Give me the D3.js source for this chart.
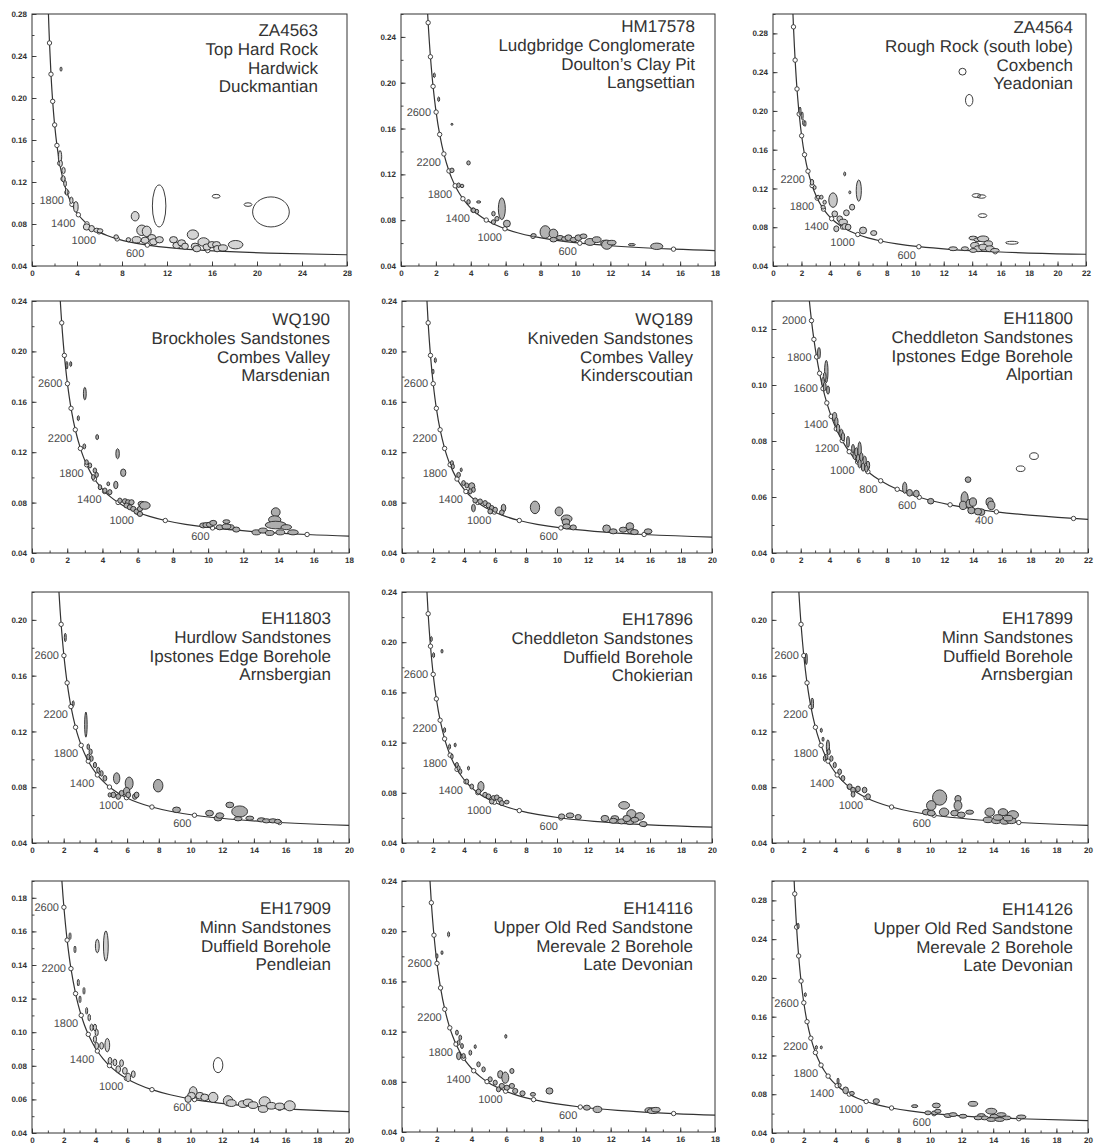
<!DOCTYPE html>
<html><head><meta charset="utf-8">
<script src="https://cdn.jsdelivr.net/npm/d3@7"></script>
<style>body{margin:0;background:#fff}svg{display:block}text{text-rendering:geometricPrecision}</style>
</head><body>
<svg id="c" width="1097" height="1146"></svg>
<script>
// ---- Concordia (Tera-Wasserburg) reference points: age (Ma), 238U/206Pb, 207Pb/206Pb
const concordiaAge = [100,150,200,300,400,500,600,700,800,900,1000,1100,1200,1300,1400,1500,1600,1700,1800,1900,2000,2200,2400,2600,2800,3000,3200,3400,3500,3600];
const concordiaX = [63.97,42.478,31.735,20.992,15.621,12.399,10.252,8.718,7.5684,6.6743,5.9594,5.3746,4.8875,4.4756,4.1227,3.8170,3.5497,3.3139,3.1046,2.9174,2.7490,2.4586,2.2170,2.0129,1.8384,1.6874,1.5557,1.4398,1.3869,1.3370];
const concordiaY = [0.048015,0.049045,0.050108,0.052333,0.054700,0.057219,0.059901,0.062757,0.065800,0.069042,0.072499,0.076187,0.080123,0.084323,0.088807,0.093598,0.098716,0.104183,0.110036,0.116293,0.122987,0.137821,0.154833,0.174367,0.196819,0.222657,0.252418,0.286737,0.305829,0.326345];

// ---- Panel texts
const sampleIds = ['ZA4563','HM17578','ZA4564','WQ190','WQ189','EH11800','EH11803','EH17896','EH17899','EH17909','EH14116','EH14126'];
const units = ['Top Hard Rock','Ludgbridge Conglomerate','Rough Rock (south lobe)','Brockholes Sandstones','Kniveden Sandstones','Cheddleton Sandstones','Hurdlow Sandstones','Cheddleton Sandstones','Minn Sandstones','Minn Sandstones','Upper Old Red Sandstone','Upper Old Red Sandstone'];
const localities = ['Hardwick','Doulton\u2019s Clay Pit','Coxbench','Combes Valley','Combes Valley','Ipstones Edge Borehole','Ipstones Edge Borehole','Duffield Borehole','Duffield Borehole','Duffield Borehole','Merevale 2 Borehole','Merevale 2 Borehole'];
const stages = ['Duckmantian','Langsettian','Yeadonian','Marsdenian','Kinderscoutian','Alportian','Arnsbergian','Chokierian','Arnsbergian','Pendleian','Late Devonian','Late Devonian'];

// ---- Axis extents / ticks
const xMaxes = [28,18,22,18,20,22,20,20,20,20,18,20];
const yMins = [0.04,0.04,0.04,0.04,0.04,0.04,0.04,0.04,0.04,0.04,0.04,0.04];
const yMaxes = [0.28,0.26,0.30,0.24,0.24,0.13,0.22,0.24,0.22,0.19,0.24,0.30];
const xTickSteps = [4,2,2,2,2,2,2,2,2,2,2,2];
const yTickSteps = [0.04,0.04,0.04,0.04,0.04,0.02,0.04,0.04,0.04,0.02,0.04,0.04];
const markerSteps = [200,200,200,200,200,100,200,200,200,200,200,200];
const std6 = [600,1000,1400,1800,2200,2600];
const labelAges = [[600,1000,1400,1800],std6,[600,1000,1400,1800,2200],std6,std6,
  [400,600,800,1000,1200,1400,1600,1800,2000],std6,std6,std6,std6,std6,std6];
const labelLevelAge = [2600,2600,2600,2600,2600,1600,2600,2600,2600,2200,2600,2600];

// ---- Analyses: [238U/206Pb, 207Pb/206Pb, half-width x, half-height y, 'f' filled | 'o' open]
const ellZA4563 = [[2.58,0.2275,0.05,0.002,'f'],[2.49,0.144,0.15,0.006,'f'],[2.55,0.1376,0.15,0.003,'f'],[2.8,0.131,0.15,0.003,'f'],[2.79,0.123,0.15,0.003,'f'],[2.94,0.1185,0.12,0.003,'f'],[3.08,0.1106,0.12,0.003,'f'],[3.5,0.1026,0.15,0.003,'f'],[3.9,0.0963,0.2,0.005,'f'],[4.86,0.0772,0.3,0.003,'f'],[5.3,0.0756,0.25,0.003,'f'],[5.75,0.074,0.25,0.002,'f'],[6.05,0.0735,0.25,0.002,'f'],[7.48,0.0677,0.2,0.002,'f'],[8.57,0.065,0.2,0.002,'f'],[9.17,0.0874,0.35,0.0045,'f'],[9.76,0.074,0.45,0.005,'f'],[10.2,0.073,0.4,0.005,'f'],[9.3,0.065,0.4,0.003,'f'],[10.05,0.0645,0.35,0.003,'f'],[10.65,0.067,0.35,0.003,'f'],[10.8,0.063,0.35,0.003,'f'],[11.33,0.065,0.35,0.003,'f'],[11.3,0.0972,0.6,0.02,'o'],[12.58,0.065,0.35,0.003,'f'],[12.87,0.0597,0.35,0.003,'f'],[13.3,0.062,0.35,0.003,'f'],[13.6,0.0588,0.3,0.003,'f'],[14.3,0.0699,0.5,0.0045,'f'],[14.5,0.0588,0.35,0.003,'f'],[14.65,0.0565,0.35,0.003,'f'],[15.25,0.0629,0.5,0.004,'f'],[15.55,0.0581,0.35,0.003,'f'],[15.99,0.0603,0.35,0.003,'f'],[16.4,0.0603,0.35,0.003,'f'],[16.45,0.0565,0.3,0.003,'f'],[16.97,0.0572,0.4,0.003,'f'],[18.1,0.0603,0.65,0.004,'f'],[16.37,0.1064,0.35,0.0018,'o'],[19.2,0.0985,0.35,0.0017,'o'],[21.24,0.0915,1.63,0.0143,'o']];
const ellHM17578 = [[1.91,0.2065,0.04,0.002,'f'],[2.16,0.1856,0.04,0.002,'f'],[2.92,0.1637,0.04,0.0008,'f'],[3.87,0.13,0.1,0.0018,'f'],[2.92,0.1235,0.12,0.002,'f'],[3.3,0.1105,0.1,0.002,'f'],[3.5,0.1099,0.1,0.0015,'f'],[3.87,0.096,0.1,0.002,'f'],[4.45,0.0959,0.12,0.001,'f'],[4.16,0.0886,0.12,0.002,'f'],[4.35,0.0875,0.1,0.002,'f'],[5.3,0.0857,0.1,0.002,'f'],[5.3,0.0784,0.12,0.002,'f'],[5.5,0.0813,0.12,0.002,'f'],[5.78,0.090,0.2,0.0095,'f'],[6.07,0.077,0.2,0.003,'f'],[7.6,0.0668,0.15,0.0015,'f'],[8.27,0.0697,0.3,0.0055,'f'],[8.74,0.0682,0.25,0.004,'f'],[8.74,0.063,0.2,0.002,'f'],[9.12,0.0647,0.2,0.002,'f'],[9.4,0.0636,0.2,0.002,'f'],[9.6,0.0647,0.2,0.0025,'f'],[9.9,0.063,0.2,0.002,'f'],[10.17,0.0647,0.2,0.0025,'f'],[10.46,0.066,0.2,0.002,'f'],[10.84,0.061,0.3,0.003,'f'],[11.22,0.063,0.25,0.0025,'f'],[11.7,0.060,0.25,0.0025,'f'],[11.8,0.0586,0.3,0.004,'f'],[12.08,0.0604,0.25,0.002,'f'],[13.23,0.0586,0.2,0.001,'f'],[14.66,0.0572,0.35,0.0028,'f']];
const ellZA4564 = [[1.9,0.2,0.04,0.004,'f'],[2.05,0.195,0.05,0.004,'f'],[2.15,0.188,0.05,0.003,'f'],[2.25,0.187,0.05,0.003,'f'],[2.74,0.1264,0.12,0.003,'f'],[2.93,0.121,0.1,0.002,'f'],[3.17,0.111,0.12,0.002,'f'],[3.4,0.111,0.12,0.002,'f'],[3.63,0.1058,0.12,0.002,'f'],[3.52,0.1007,0.15,0.002,'f'],[13.32,0.2405,0.25,0.0035,'o'],[13.79,0.211,0.26,0.006,'o'],[4.22,0.108,0.3,0.0075,'f'],[5.04,0.135,0.05,0.002,'f'],[5.4,0.116,0.06,0.0015,'f'],[6.03,0.1178,0.18,0.011,'f'],[5.56,0.1007,0.18,0.003,'f'],[5.16,0.0949,0.2,0.003,'f'],[4.34,0.0938,0.2,0.003,'f'],[4.69,0.0887,0.2,0.003,'f'],[4.93,0.0853,0.3,0.003,'f'],[4.45,0.0784,0.18,0.003,'f'],[5.04,0.0808,0.2,0.003,'f'],[5.28,0.0801,0.2,0.003,'f'],[6.33,0.0767,0.25,0.0035,'f'],[7.08,0.074,0.22,0.0025,'f'],[12.66,0.0578,0.3,0.002,'f'],[13.49,0.0578,0.25,0.002,'f'],[14.07,0.0688,0.3,0.002,'f'],[14.42,0.0671,0.3,0.002,'f'],[14.77,0.068,0.4,0.003,'f'],[15.13,0.063,0.3,0.003,'f'],[14.19,0.0613,0.3,0.003,'f'],[14.42,0.0578,0.3,0.003,'f'],[14.77,0.0595,0.3,0.003,'f'],[15.24,0.0578,0.3,0.003,'f'],[15.6,0.0561,0.3,0.002,'f'],[14.07,0.056,0.25,0.002,'f'],[14.3,0.1127,0.3,0.002,'o'],[14.66,0.1117,0.3,0.0018,'o'],[14.73,0.092,0.3,0.002,'o'],[16.8,0.064,0.45,0.0015,'o']];
const ellWQ190 = [[1.98,0.189,0.04,0.003,'f'],[2.2,0.19,0.03,0.002,'f'],[3.0,0.1665,0.08,0.005,'f'],[2.63,0.147,0.06,0.002,'f'],[3.7,0.132,0.08,0.002,'f'],[2.97,0.1246,0.08,0.002,'f'],[4.86,0.1188,0.1,0.004,'f'],[5.18,0.1037,0.15,0.003,'f'],[4.76,0.094,0.12,0.003,'f'],[3.1,0.112,0.1,0.002,'f'],[3.29,0.1095,0.1,0.002,'f'],[3.57,0.1055,0.1,0.002,'f'],[3.67,0.102,0.1,0.002,'f'],[3.48,0.1002,0.1,0.002,'f'],[3.86,0.0922,0.1,0.002,'f'],[4.14,0.0896,0.12,0.002,'f'],[4.33,0.0949,0.08,0.0015,'f'],[4.42,0.0883,0.12,0.002,'f'],[4.99,0.0816,0.12,0.002,'f'],[5.28,0.0811,0.15,0.002,'f'],[5.46,0.0803,0.15,0.002,'f'],[5.65,0.0803,0.15,0.002,'f'],[5.37,0.0777,0.15,0.002,'f'],[5.56,0.0763,0.15,0.002,'f'],[5.75,0.075,0.15,0.002,'f'],[5.94,0.0729,0.15,0.002,'f'],[6.13,0.075,0.15,0.002,'f'],[6.22,0.079,0.2,0.002,'f'],[6.41,0.0777,0.3,0.003,'f'],[6.13,0.071,0.15,0.002,'f'],[9.72,0.0619,0.2,0.002,'f'],[9.9,0.0622,0.2,0.002,'f'],[10.1,0.0625,0.2,0.002,'f'],[10.29,0.0639,0.2,0.002,'f'],[10.66,0.0604,0.2,0.002,'f'],[11.04,0.0649,0.2,0.0015,'f'],[11.23,0.0605,0.25,0.002,'f'],[11.6,0.0586,0.2,0.002,'f'],[13.84,0.0724,0.25,0.0035,'f'],[13.78,0.0665,0.35,0.003,'f'],[13.84,0.0622,0.6,0.003,'f'],[14.44,0.0605,0.3,0.002,'f'],[14.1,0.0564,0.25,0.002,'f'],[14.82,0.0564,0.3,0.002,'f'],[12.74,0.0564,0.25,0.002,'f'],[13.12,0.0578,0.25,0.002,'f'],[13.5,0.0559,0.25,0.002,'f'],[11.04,0.061,0.25,0.002,'f']];
const ellWQ189 = [[2.15,0.193,0.03,0.002,'f'],[2.0,0.184,0.04,0.002,'f'],[3.22,0.1113,0.1,0.002,'f'],[3.28,0.1087,0.1,0.002,'f'],[3.82,0.106,0.04,0.0015,'f'],[3.65,0.102,0.12,0.002,'f'],[3.97,0.0955,0.12,0.002,'f'],[4.18,0.0936,0.12,0.002,'f'],[4.5,0.0928,0.2,0.003,'f'],[4.61,0.0902,0.12,0.002,'f'],[4.4,0.0889,0.12,0.002,'f'],[4.72,0.0817,0.15,0.002,'f'],[4.61,0.0757,0.12,0.003,'f'],[5.04,0.0809,0.15,0.002,'f'],[5.36,0.0796,0.15,0.002,'f'],[5.58,0.0778,0.15,0.002,'f'],[5.79,0.0757,0.15,0.002,'f'],[6.01,0.0743,0.15,0.002,'f'],[5.69,0.073,0.15,0.002,'f'],[6.55,0.0757,0.15,0.003,'f'],[6.44,0.0722,0.15,0.002,'f'],[8.58,0.0762,0.3,0.005,'f'],[10.13,0.073,0.25,0.0035,'f'],[10.62,0.0672,0.35,0.003,'f'],[10.58,0.0646,0.25,0.0025,'f'],[10.62,0.0611,0.25,0.002,'f'],[11.05,0.0603,0.2,0.002,'f'],[13.2,0.0593,0.25,0.003,'f'],[13.63,0.0572,0.25,0.002,'f'],[14.27,0.0585,0.25,0.002,'f'],[14.7,0.0611,0.25,0.003,'f'],[14.8,0.0572,0.25,0.002,'f'],[15.0,0.0566,0.25,0.002,'f'],[15.88,0.0572,0.25,0.002,'f']];
const ellEH11800 = [[3.27,0.1114,0.1,0.002,'f'],[3.78,0.1048,0.12,0.004,'f'],[3.67,0.103,0.1,0.0015,'f'],[3.55,0.1012,0.1,0.0015,'f'],[3.9,0.0982,0.1,0.0015,'f'],[3.67,0.0994,0.1,0.0015,'f'],[4.36,0.0887,0.15,0.0015,'f'],[4.48,0.0869,0.12,0.0015,'f'],[4.6,0.0845,0.12,0.0015,'f'],[4.83,0.0827,0.12,0.0015,'f'],[4.94,0.0815,0.12,0.0015,'f'],[5.29,0.0797,0.1,0.002,'f'],[5.64,0.0773,0.1,0.0015,'f'],[5.75,0.0749,0.12,0.0015,'f'],[5.87,0.0761,0.12,0.0015,'f'],[6.1,0.0767,0.12,0.003,'f'],[5.99,0.0737,0.12,0.0015,'f'],[6.1,0.0719,0.12,0.0015,'f'],[6.22,0.0743,0.12,0.0015,'f'],[6.45,0.0731,0.12,0.0015,'f'],[6.34,0.0707,0.12,0.0015,'f'],[6.68,0.0713,0.12,0.0015,'f'],[6.57,0.0701,0.12,0.0012,'f'],[9.24,0.0633,0.15,0.002,'f'],[9.58,0.0615,0.2,0.0012,'f'],[10.05,0.0612,0.2,0.0012,'f'],[11.05,0.0585,0.22,0.001,'f'],[13.65,0.0662,0.2,0.001,'f'],[13.41,0.0594,0.25,0.0025,'f'],[13.3,0.057,0.25,0.0015,'f'],[13.76,0.0576,0.25,0.0015,'f'],[13.99,0.0582,0.25,0.0015,'f'],[13.88,0.0552,0.25,0.0012,'f'],[14.57,0.0546,0.25,0.0012,'f'],[14.34,0.0548,0.25,0.0012,'f'],[15.15,0.0582,0.25,0.0015,'f'],[15.27,0.057,0.25,0.0015,'f'],[17.31,0.0701,0.3,0.001,'o'],[18.24,0.0746,0.3,0.0012,'o']];
const ellEH11803 = [[2.1,0.1874,0.04,0.003,'f'],[2.6,0.14,0.06,0.002,'f'],[3.4,0.1249,0.08,0.009,'f'],[3.55,0.109,0.08,0.002,'f'],[3.7,0.1054,0.1,0.002,'f'],[3.55,0.1018,0.1,0.002,'f'],[3.76,0.1006,0.1,0.002,'f'],[3.97,0.0959,0.1,0.002,'f'],[4.18,0.0923,0.1,0.002,'f'],[4.39,0.0899,0.1,0.002,'f'],[4.6,0.0864,0.12,0.002,'f'],[5.34,0.0864,0.2,0.004,'f'],[6.13,0.0828,0.25,0.0045,'f'],[5.97,0.0768,0.2,0.003,'f'],[6.07,0.0745,0.15,0.002,'f'],[5.65,0.0757,0.15,0.002,'f'],[5.44,0.0733,0.15,0.002,'f'],[6.49,0.0733,0.15,0.002,'f'],[6.6,0.0745,0.15,0.002,'f'],[5.13,0.0745,0.15,0.002,'f'],[7.96,0.0811,0.3,0.0045,'f'],[4.9,0.0745,0.1,0.0015,'f'],[9.12,0.0638,0.25,0.002,'f'],[11.2,0.0614,0.25,0.002,'f'],[11.74,0.0578,0.25,0.002,'f'],[11.85,0.0597,0.25,0.002,'f'],[12.48,0.0673,0.25,0.002,'f'],[13.1,0.0626,0.5,0.004,'f'],[13.0,0.0574,0.25,0.0015,'f'],[13.74,0.0578,0.25,0.0015,'f'],[14.47,0.0566,0.25,0.0015,'f'],[14.79,0.0559,0.25,0.0015,'f'],[15.2,0.0559,0.25,0.0015,'f'],[15.5,0.0555,0.2,0.0015,'f']];
const ellEH17896 = [[1.89,0.2025,0.03,0.002,'f'],[2.04,0.1897,0.03,0.002,'f'],[2.58,0.1928,0.04,0.0015,'f'],[2.75,0.130,0.05,0.002,'f'],[3.07,0.1168,0.06,0.002,'f'],[3.43,0.1181,0.05,0.0015,'f'],[3.22,0.1089,0.08,0.002,'f'],[3.54,0.1022,0.1,0.002,'f'],[3.65,0.0996,0.1,0.002,'f'],[3.76,0.097,0.1,0.002,'f'],[4.29,0.0996,0.05,0.0015,'f'],[4.18,0.089,0.12,0.002,'f'],[4.5,0.085,0.12,0.002,'f'],[5.09,0.085,0.2,0.004,'f'],[4.94,0.081,0.15,0.002,'f'],[5.36,0.0784,0.15,0.002,'f'],[5.58,0.0771,0.15,0.002,'f'],[5.9,0.0758,0.15,0.002,'f'],[6.12,0.0763,0.15,0.002,'f'],[6.33,0.0744,0.15,0.002,'f'],[6.44,0.0718,0.15,0.002,'f'],[6.76,0.0726,0.15,0.0015,'f'],[5.79,0.0731,0.15,0.002,'f'],[10.3,0.0612,0.2,0.002,'f'],[10.84,0.062,0.25,0.002,'f'],[11.37,0.0607,0.2,0.002,'f'],[13.09,0.0595,0.25,0.0025,'f'],[13.73,0.0598,0.25,0.002,'f'],[14.33,0.07,0.35,0.003,'f'],[14.8,0.0631,0.3,0.0035,'f'],[15.34,0.0612,0.3,0.003,'f'],[14.16,0.0572,0.25,0.002,'f'],[13.63,0.0577,0.25,0.002,'f'],[14.7,0.0567,0.25,0.002,'f'],[15.56,0.0551,0.25,0.002,'f'],[15.02,0.0585,0.25,0.002,'f'],[14.5,0.0595,0.25,0.0025,'f']];
const ellEH17899 = [[2.17,0.172,0.04,0.004,'f'],[2.55,0.14,0.08,0.004,'f'],[3.12,0.1208,0.04,0.0015,'f'],[3.23,0.1144,0.04,0.0015,'f'],[3.54,0.109,0.1,0.005,'f'],[3.59,0.1054,0.1,0.002,'f'],[3.44,0.1018,0.1,0.002,'f'],[3.33,0.1006,0.08,0.002,'f'],[3.76,0.1006,0.1,0.002,'f'],[3.97,0.0959,0.1,0.002,'f'],[4.28,0.0911,0.12,0.002,'f'],[4.49,0.0864,0.12,0.002,'f'],[4.92,0.0804,0.15,0.002,'f'],[5.13,0.078,0.15,0.002,'f'],[5.44,0.0788,0.15,0.002,'f'],[5.13,0.0749,0.12,0.002,'f'],[5.86,0.078,0.15,0.002,'f'],[6.08,0.0733,0.15,0.002,'f'],[10.61,0.0726,0.45,0.0055,'f'],[10.08,0.0669,0.3,0.0035,'f'],[9.77,0.0621,0.25,0.002,'f'],[10.08,0.0614,0.25,0.002,'f'],[10.89,0.0621,0.3,0.003,'f'],[11.77,0.0716,0.2,0.0025,'f'],[11.77,0.0669,0.25,0.0035,'f'],[11.56,0.0614,0.25,0.002,'f'],[11.98,0.0602,0.25,0.002,'f'],[12.51,0.0621,0.25,0.0015,'f'],[13.78,0.0621,0.3,0.003,'f'],[14.62,0.0621,0.3,0.0025,'f'],[15.25,0.0602,0.35,0.003,'f'],[13.67,0.0566,0.3,0.002,'f'],[14.2,0.0559,0.3,0.002,'f'],[14.73,0.0555,0.3,0.002,'f'],[15.15,0.0559,0.3,0.002,'f'],[14.94,0.0578,0.3,0.002,'f'],[14.3,0.0583,0.3,0.002,'f']];
const ellEH17909 = [[2.4,0.1572,0.05,0.002,'f'],[2.71,0.1493,0.05,0.002,'f'],[4.12,0.1513,0.12,0.004,'f'],[4.66,0.1513,0.15,0.009,'f'],[2.92,0.1295,0.06,0.002,'f'],[3.28,0.1246,0.06,0.002,'f'],[3.03,0.1196,0.06,0.002,'f'],[3.45,0.1127,0.06,0.002,'f'],[3.61,0.1087,0.08,0.002,'f'],[3.76,0.1028,0.1,0.002,'f'],[3.97,0.1028,0.1,0.002,'f'],[4.08,0.0998,0.1,0.002,'f'],[3.97,0.0958,0.1,0.002,'f'],[4.08,0.0919,0.12,0.002,'f'],[4.39,0.0919,0.12,0.002,'f'],[4.75,0.0923,0.15,0.004,'f'],[4.92,0.083,0.12,0.002,'f'],[5.23,0.082,0.12,0.002,'f'],[5.65,0.0816,0.12,0.002,'f'],[5.44,0.078,0.15,0.002,'f'],[5.86,0.077,0.15,0.002,'f'],[6.07,0.0731,0.15,0.0025,'f'],[6.39,0.075,0.12,0.002,'f'],[10.17,0.0641,0.25,0.0035,'f'],[10.06,0.0622,0.25,0.002,'f'],[9.85,0.0602,0.2,0.002,'f'],[10.59,0.0622,0.25,0.002,'f'],[10.9,0.0612,0.25,0.002,'f'],[11.43,0.0612,0.3,0.003,'f'],[11.74,0.0804,0.3,0.0045,'o'],[12.37,0.0592,0.3,0.003,'f'],[12.58,0.0578,0.3,0.002,'f'],[13.32,0.0572,0.3,0.002,'f'],[13.63,0.0582,0.3,0.002,'f'],[13.95,0.0566,0.3,0.002,'f'],[14.68,0.0586,0.35,0.003,'f'],[14.58,0.0543,0.3,0.002,'f'],[15.1,0.0562,0.3,0.002,'f'],[15.63,0.0558,0.3,0.002,'f'],[16.26,0.0562,0.35,0.003,'f']];
const ellEH14116 = [[2.68,0.1975,0.05,0.002,'f'],[2.01,0.1802,0.04,0.002,'f'],[2.3,0.1829,0.04,0.0015,'f'],[3.16,0.1192,0.08,0.002,'f'],[3.35,0.1152,0.08,0.002,'f'],[3.26,0.1112,0.08,0.002,'f'],[3.45,0.1085,0.08,0.002,'f'],[3.26,0.1006,0.12,0.003,'f'],[3.54,0.1006,0.1,0.002,'f'],[3.93,0.1032,0.08,0.002,'f'],[4.21,0.108,0.06,0.0015,'f'],[5.97,0.1162,0.06,0.0015,'f'],[4.4,0.0939,0.1,0.002,'f'],[4.69,0.0899,0.1,0.002,'f'],[5.65,0.0859,0.15,0.003,'f'],[5.94,0.0833,0.2,0.0045,'f'],[6.32,0.0886,0.12,0.002,'f'],[5.07,0.082,0.12,0.002,'f'],[5.36,0.0793,0.12,0.002,'f'],[5.55,0.074,0.12,0.002,'f'],[5.74,0.0767,0.15,0.002,'f'],[6.03,0.0753,0.15,0.002,'f'],[6.32,0.0767,0.15,0.002,'f'],[6.51,0.0727,0.15,0.002,'f'],[6.93,0.0708,0.15,0.002,'f'],[7.53,0.07,0.15,0.0015,'f'],[8.48,0.0727,0.2,0.0025,'f'],[10.63,0.0594,0.2,0.002,'f'],[11.24,0.058,0.25,0.0025,'f'],[14.27,0.0574,0.3,0.002,'f'],[14.42,0.0567,0.3,0.002,'f'],[14.6,0.0578,0.25,0.0018,'f']];
const ellEH14126 = [[1.65,0.2536,0.04,0.003,'f'],[2.11,0.1827,0.04,0.002,'f'],[2.81,0.1283,0.06,0.002,'f'],[3.12,0.1283,0.06,0.0015,'f'],[4.18,0.0937,0.06,0.003,'f'],[4.28,0.0892,0.1,0.002,'f'],[4.66,0.084,0.18,0.0035,'f'],[5.06,0.0809,0.15,0.002,'f'],[6.6,0.0729,0.2,0.0025,'f'],[9.03,0.0677,0.2,0.0015,'f'],[10.4,0.0684,0.25,0.0025,'f'],[12.72,0.0701,0.3,0.0025,'f'],[9.87,0.0608,0.2,0.002,'f'],[10.3,0.0608,0.2,0.002,'f'],[10.5,0.0625,0.2,0.002,'f'],[11.14,0.058,0.25,0.002,'f'],[11.46,0.059,0.25,0.002,'f'],[12.09,0.0573,0.25,0.002,'f'],[13.25,0.058,0.25,0.002,'f'],[13.46,0.0556,0.25,0.002,'f'],[13.88,0.0625,0.35,0.003,'f'],[14.09,0.0573,0.3,0.002,'f'],[14.51,0.059,0.3,0.002,'f'],[14.83,0.0556,0.3,0.002,'f'],[13.88,0.0539,0.3,0.002,'f'],[14.41,0.0539,0.3,0.002,'f'],[15.78,0.0566,0.3,0.002,'f'],[13.04,0.0556,0.25,0.002,'f']];

const ellipseSets = [ellZA4563,ellHM17578,ellZA4564,ellWQ190,ellWQ189,ellEH11800,ellEH11803,ellEH17896,ellEH17899,ellEH17909,ellEH14116,ellEH14126];

// ---- Layout & styles (pixels)
const frames = [[32,14,347,266],[401,14,715,266],[773,14,1086,266],
                [32,301,349,553],[402,301,712,553],[772,301,1088,553],
                [32,592,349,843],[402,592,712,843],[772,592,1088,843],
                [32,881,349,1133],[402,881,715,1132],[772,881,1088,1133]];
const titleRight = [29,20,13,19,19,15,18,19,15,18,22,15];
const titleTop = [22,18,19,24,24,23,32,33,32,33,33,34];
const fills = ['#d4d4d4','#b2b2b2','#c8c8c8','#adadad','#adadad','#aaaaaa','#aaaaaa','#b0b0b0','#aaaaaa','#cfcfcf','#b0b0b0','#b0b0b0'];
const FONT = '"Liberation Sans", Arial, Helvetica, sans-serif';

const svg = d3.select('#c');
svg.append('rect').attr('width',1097).attr('height',1146).attr('fill','#fff');
const defs = svg.append('defs');
const concordia = concordiaAge.map((a,i)=>({age:a,x:concordiaX[i],y:concordiaY[i]}));

frames.forEach((f,i)=>{
  const [x0,y0,x1,y1] = f;
  const x = d3.scaleLinear().domain([0,xMaxes[i]]).range([x0,x1]);
  const y = d3.scaleLinear().domain([yMins[i],yMaxes[i]]).range([y1,y0]);
  const g = svg.append('g');
  defs.append('clipPath').attr('id','clip'+i).append('rect')
    .attr('x',x0).attr('y',y0).attr('width',x1-x0).attr('height',y1-y0);

  // axes (ticks inward)
  const xt = d3.range(0, xMaxes[i]+1e-9, xTickSteps[i]);
  const xm = d3.range(0, xMaxes[i]+1e-9, xTickSteps[i]/2);
  const yt = d3.range(yMins[i], yMaxes[i]+1e-9, yTickSteps[i]).map(v=>+v.toFixed(3));
  const ym = d3.range(yMins[i], yMaxes[i]+1e-9, yTickSteps[i]/2).map(v=>+v.toFixed(3));
  const styleAxis = sel => {
    sel.select('.domain').remove();
    sel.selectAll('line').attr('stroke','#333').attr('stroke-width',0.9);
    sel.selectAll('text').attr('font-family',FONT).attr('font-size',8).attr('font-weight','bold').attr('fill','#333');
  };
  g.append('g').attr('transform',`translate(0,${y1})`)
    .call(d3.axisBottom(x).tickValues(xm).tickSize(-2.5).tickFormat('')).call(styleAxis);
  g.append('g').attr('transform',`translate(0,${y1})`)
    .call(d3.axisBottom(x).tickValues(xt).tickSize(-4.5).tickPadding(4).tickFormat(d3.format('d'))).call(styleAxis);
  g.append('g').attr('transform',`translate(${x0},0)`)
    .call(d3.axisLeft(y).tickValues(ym).tickSize(-2.5).tickFormat('')).call(styleAxis);
  g.append('g').attr('transform',`translate(${x0},0)`)
    .call(d3.axisLeft(y).tickValues(yt).tickSize(-4.5).tickPadding(5).tickFormat(d3.format('.2f'))).call(styleAxis);

  const plot = g.append('g').attr('clip-path',`url(#clip${i})`);
  // concordia curve
  const line = d3.line().x(d=>x(d.x)).y(d=>y(d.y)).curve(d3.curveCatmullRom);
  plot.append('path').datum(concordia).attr('d',line)
    .attr('fill','none').attr('stroke','#333').attr('stroke-width',1.2);
  // age markers
  const marks = concordia.filter(d=>d.age>=200 && d.age%markerSteps[i]===0 && d.x<=xMaxes[i] && d.y<=yMaxes[i]);
  plot.selectAll('circle.m').data(marks).enter().append('circle')
    .attr('cx',d=>x(d.x)).attr('cy',d=>y(d.y)).attr('r',2.2)
    .attr('fill','#fff').attr('stroke','#333').attr('stroke-width',0.9);
  // analyses ellipses
  plot.selectAll('ellipse').data(ellipseSets[i]).enter().append('ellipse')
    .attr('cx',d=>x(d[0])).attr('cy',d=>y(d[1]))
    .attr('rx',d=>Math.max(1, x(d[0]+d[2])-x(d[0])))
    .attr('ry',d=>Math.max(1, y(d[1])-y(d[1]+d[3])))
    .attr('fill',d=>d[4]==='o'?'none':fills[i])
    .attr('stroke','#262626').attr('stroke-width',0.9);
  // age labels
  const lab = concordia.filter(d=>labelAges[i].includes(d.age));
  g.selectAll('text.age').data(lab).enter().append('text')
    .attr('x',d=>x(d.x) - (d.age>=labelLevelAge[i]?5:3))
    .attr('y',d=>y(d.y) + (d.age>=labelLevelAge[i]?3.8:11.8))
    .attr('text-anchor','end').attr('font-family',FONT).attr('font-size',11)
    .attr('fill','#4d4d4d').text(d=>d.age);

  // frame
  g.append('rect').attr('x',x0).attr('y',y0).attr('width',x1-x0).attr('height',y1-y0)
    .attr('fill','none').attr('stroke','#333').attr('stroke-width',1);

  // title block
  const lines = [sampleIds[i],units[i],localities[i],stages[i]];
  g.selectAll('text.t').data(lines).enter().append('text')
    .attr('x',x1-titleRight[i]).attr('y',(d,k)=>y0+titleTop[i]+k*18.8)
    .attr('text-anchor','end').attr('font-family',FONT).attr('font-size',17)
    .attr('fill','#333').text(d=>d);
});
</script>
</body></html>
